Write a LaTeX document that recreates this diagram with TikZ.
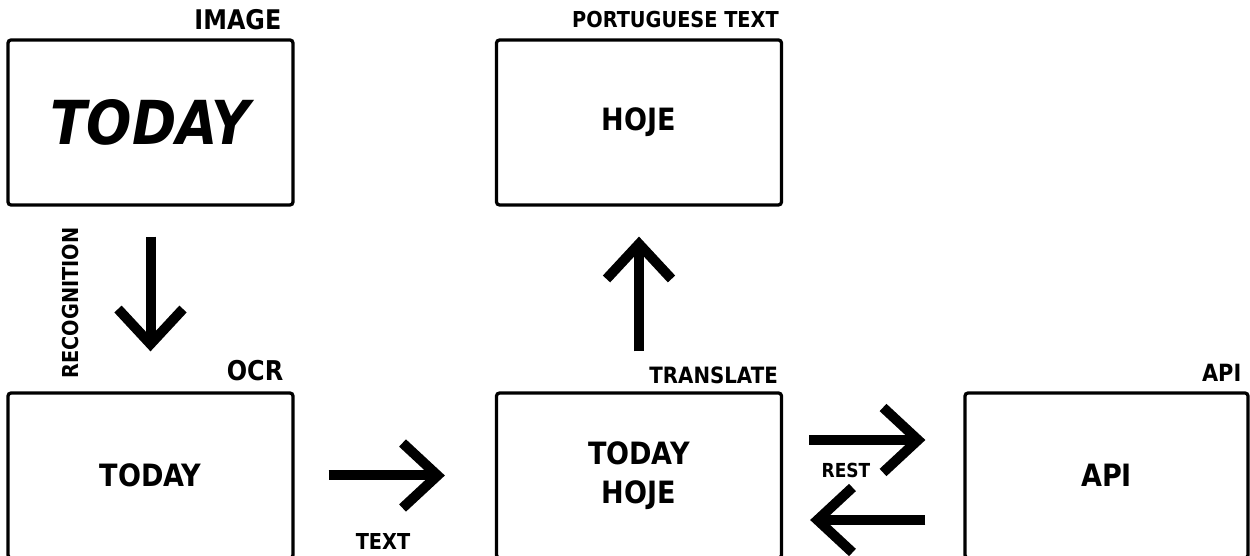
\documentclass[tikz,border=0pt]{standalone}
\usepackage{fontspec}
\setmainfont{DejaVu Sans}[FakeStretch=0.88]
\usetikzlibrary{arrows.meta}

\begin{document}
\begin{tikzpicture}[
        box/.style={draw=black,line width=0.065cm,rounded corners=0.06cm,minimum width=5.7cm,minimum height=3.3cm,inner sep=0pt},
        boxtext/.style={font=\bfseries\fontsize{17.5}{22}\selectfont,align=center},
        tag/.style={font=\bfseries\fontsize{12.5}{14}\selectfont,anchor=base east,inner sep=0pt},
        bigarrow/.style={line width=0.2cm,-{Straight Barb[length=0.7cm,width=1.3cm]}}
    ]
        \useasboundingbox (0,0) rectangle (25,11.12);

        \node[box,boxtext] (img) at (3.01,8.67) {\fontsize{34.5}{40}\selectfont\itshape TODAY};
        \node[box,boxtext] (pt) at (12.78,8.67) {HOJE};
        \node[box,boxtext] (ocr) at (3.01,1.61) {TODAY};
        \node[box,boxtext] (tr) at (12.78,1.61) {TODAY\\HOJE};
        \node[box,boxtext,minimum width=5.66cm] (api) at (22.13,1.61) {API};

        \node[tag,font=\bfseries\fontsize{15.4}{18}\selectfont] (imgtag) at ([xshift=-0.26cm,yshift=0.18cm]img.north east) {IMAGE};
        \node[tag] (pttag) at ([xshift=-0.08cm,yshift=0.22cm]pt.north east) {PORTUGUESE TEXT};
        \node[tag,font=\bfseries\fontsize{15.5}{18}\selectfont] (ocrtag) at ([xshift=-0.22cm,yshift=0.22cm]ocr.north east) {OCR};
        \node[tag,font=\bfseries\fontsize{12.8}{15}\selectfont] (trtag) at ([xshift=-0.1cm,yshift=0.16cm]tr.north east) {TRANSLATE};
        \node[tag,font=\bfseries\fontsize{13.5}{15}\selectfont] (apitag) at ([xshift=-0.16cm,yshift=0.2cm]api.north east) {API};

        \draw[bigarrow,shorten <=0.6cm,shorten >=0.8cm] (img) -- (ocr);
        \draw[bigarrow,shorten <=0.8cm,shorten >=0.6cm] (tr) -- (pt);
        \draw[bigarrow,shorten <=0.68cm,shorten >=1.0cm] (ocr) -- (tr);
        \draw[bigarrow,shorten <=0.52cm,shorten >=0.76cm] ([yshift=0.71cm]tr.east) -- ([yshift=0.71cm]api.west);
        \draw[bigarrow,shorten <=0.76cm,shorten >=0.54cm] ([yshift=-0.89cm]api.west) -- ([yshift=-0.89cm]tr.east);

        \node[tag,anchor=center,rotate=90] (recog) at (1.42,5.06) {RECOGNITION};
        \node[tag,anchor=center] (textlbl) at (7.66,0.30) {TEXT};
        \node[tag,anchor=center,font=\bfseries\fontsize{11}{13}\selectfont] (restlbl) at (16.92,1.72) {REST};
    \end{tikzpicture}
\end{document}
